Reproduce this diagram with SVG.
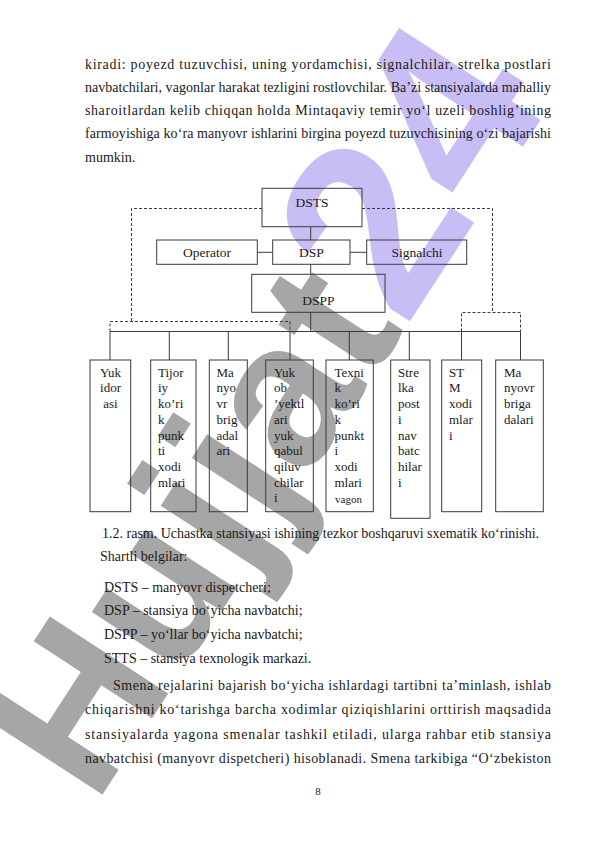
<svg xmlns="http://www.w3.org/2000/svg" width="596" height="842" viewBox="0 0 596 842">
<style>
.t{font-family:"Liberation Serif","Times New Roman",serif;font-size:14px;fill:#1a1a1a}
.bx{fill:none;stroke:#3a3a3a;stroke-width:1}
.bl{font-family:"Liberation Serif","Times New Roman",serif;font-size:13.5px;fill:#1a1a1a;text-anchor:middle}
.ct{font-family:"Liberation Serif","Times New Roman",serif;font-size:13px;fill:#1a1a1a}
.ln{fill:none;stroke:#3a3a3a;stroke-width:1}
.ds{fill:none;stroke:#3a3a3a;stroke-width:1;stroke-dasharray:3 2}
.wm{font-family:"Liberation Sans",Arial,sans-serif;font-weight:bold;font-size:205px}
</style>
<rect width="596" height="842" fill="#ffffff"/>
<g id="watermark">
<text class="wm" transform="translate(95,806) rotate(-57)"><tspan fill="#a6a6a6">Hujjat</tspan><tspan fill="#c9bdf6" style="font-size:245px">24</tspan></text>
</g>
<g id="body-top">
<text class="t" x="85" y="68.5" textLength="466" lengthAdjust="spacing">kiradi: poyezd tuzuvchisi, uning yordamchisi, signalchilar, strelka postlari</text>
<text class="t" x="85" y="91.5" textLength="466" lengthAdjust="spacing">navbatchilari, vagonlar harakat tezligini rostlovchilar.  Ba’zi stansiyalarda mahalliy</text>
<text class="t" x="85" y="114.5" textLength="466" lengthAdjust="spacing">sharoitlardan kelib chiqqan holda Mintaqaviy temir yo‘l uzeli  boshlig’ining</text>
<text class="t" x="85" y="137.5" textLength="466" lengthAdjust="spacing">farmoyishiga ko‘ra manyovr ishlarini birgina poyezd tuzuvchisining o‘zi bajarishi</text>
<text class="t" x="85" y="161.5">mumkin.</text>
</g>
<g id="connectors">
<path class="ds" d="M262 208.5 H131.5 V321.5"/>
<path class="ds" d="M110 331.5 V321.5 H290 V331.5"/>
<path class="ds" d="M362 208.5 H492.5 V312.5"/>
<path class="ds" d="M461.5 331.5 V312.5 H520.5 V331.5"/>
<path class="ln" d="M310.7 227 V240"/>
<path class="ln" d="M257.3 252.3 H272.7"/>
<path class="ln" d="M350 252.3 H366.7"/>
<path class="ln" d="M310.7 264.3 V274.3"/>
<path class="ln" d="M310.7 312.3 V331.5"/>
<path class="ln" d="M110 331.5 H520.5"/>
<path class="ln" d="M110 331.5 V360 M169.3 331.5 V360 M228.3 331.5 V360 M290 331.5 V360 M349.3 331.5 V360 M409.3 331.5 V360 M461.5 331.5 V360 M520.5 331.5 V360"/>
</g>
<g id="DSTS"><rect class="bx" x="262" y="188.3" width="100" height="38.4"/><text class="bl" x="312" y="206.5">DSTS</text></g>
<g id="Operator"><rect class="bx" x="156.7" y="240" width="100.6" height="24.3"/><text class="bl" x="207" y="256.7">Operator</text></g>
<g id="DSP"><rect class="bx" x="272.7" y="240" width="77.3" height="24.3"/><text class="bl" x="311.5" y="256.7">DSP</text></g>
<g id="Signalchi"><rect class="bx" x="366.7" y="240" width="100" height="24.3"/><text class="bl" x="417" y="256.7">Signalchi</text></g>
<g id="DSPP"><rect class="bx" x="251.7" y="274.3" width="133.3" height="38"/><text class="bl" x="318.5" y="305">DSPP</text></g>
<g id="yuk-idorasi"><rect class="bx" x="90" y="360" width="40.7" height="151.7"/>
<text class="ct" text-anchor="middle"><tspan x="110.5" y="376.7">Yuk</tspan><tspan x="110.5" y="392.4">idor</tspan><tspan x="110.5" y="408.1">asi</tspan></text></g>
<g id="tijoriy"><rect class="bx" x="150.7" y="360" width="45.3" height="151.7"/>
<text class="ct"><tspan x="158" y="376.7">Tijor</tspan><tspan x="158" y="392.4">iy</tspan><tspan x="158" y="408.1">ko’ri</tspan><tspan x="158" y="423.8">k</tspan><tspan x="158" y="439.5">punk</tspan><tspan x="158" y="455.2">ti</tspan><tspan x="158" y="470.9">xodi</tspan><tspan x="158" y="486.6">mlari</tspan></text></g>
<g id="manyovr-brigadalari-1"><rect class="bx" x="209.3" y="360" width="38" height="151.7"/>
<text class="ct"><tspan x="216.5" y="376.7">Ma</tspan><tspan x="216.5" y="392.4">nyo</tspan><tspan x="216.5" y="408.1">vr</tspan><tspan x="216.5" y="423.8">brig</tspan><tspan x="216.5" y="439.5">adal</tspan><tspan x="216.5" y="455.2">ari</tspan></text></g>
<g id="yuk-obyektlari"><rect class="bx" x="265.7" y="360" width="47.6" height="151.7"/>
<text class="ct"><tspan x="274" y="376.7">Yuk</tspan><tspan x="274" y="392.4">ob</tspan><tspan x="274" y="408.1">’yektl</tspan><tspan x="274" y="423.8">ari</tspan><tspan x="274" y="439.5">yuk</tspan><tspan x="274" y="455.2">qabul</tspan><tspan x="274" y="470.9">qiluv</tspan><tspan x="274" y="486.6">chilar</tspan><tspan x="274" y="502.3">i</tspan></text></g>
<g id="texnik"><rect class="bx" x="326" y="360" width="47.3" height="151.7"/>
<text class="ct"><tspan x="334.5" y="376.7">Texni</tspan><tspan x="334.5" y="392.4">k</tspan><tspan x="334.5" y="408.1">ko’ri</tspan><tspan x="334.5" y="423.8">k</tspan><tspan x="334.5" y="439.5">punkt</tspan><tspan x="334.5" y="455.2">i</tspan><tspan x="334.5" y="470.9">xodi</tspan><tspan x="334.5" y="486.6">mlari</tspan></text>
<text class="ct" x="335" y="503" style="font-size:11px">vagon</text></g>
<g id="strelka"><rect class="bx" x="390.7" y="360" width="39.3" height="158.3"/>
<text class="ct"><tspan x="398" y="376.7">Stre</tspan><tspan x="398" y="392.4">lka</tspan><tspan x="398" y="408.1">post</tspan><tspan x="398" y="423.8">i</tspan><tspan x="398" y="439.5">nav</tspan><tspan x="398" y="455.2">batc</tspan><tspan x="398" y="470.9">hilar</tspan><tspan x="398" y="486.6">i</tspan></text></g>
<g id="stm"><rect class="bx" x="441.7" y="360" width="40" height="151.7"/>
<text class="ct"><tspan x="449" y="376.7">ST</tspan><tspan x="449" y="392.4">M</tspan><tspan x="449" y="408.1">xodi</tspan><tspan x="449" y="423.8">mlar</tspan><tspan x="449" y="439.5">i</tspan></text></g>
<g id="manyovr-brigadalari-2"><rect class="bx" x="495.7" y="360" width="47.6" height="151.7"/>
<text class="ct"><tspan x="504" y="376.7">Ma</tspan><tspan x="504" y="392.4">nyovr</tspan><tspan x="504" y="408.1">briga</tspan><tspan x="504" y="423.8">dalari</tspan></text></g>
<g id="caption">
<text class="t" x="102" y="538">1.2. rasm. Uchastka stansiyasi ishining tezkor boshqaruvi sxematik ko‘rinishi.</text>
<text class="t" x="100" y="561">Shartli belgilar:</text>
<text class="t" x="104" y="592">DSTS – manyovr dispetcheri;</text>
<text class="t" x="104" y="615">DSP – stansiya bo‘yicha navbatchi;</text>
<text class="t" x="104" y="639">DSPP – yo‘llar bo‘yicha navbatchi;</text>
<text class="t" x="104" y="663">STTS – stansiya texnologik markazi.</text>
</g>
<g id="body-bottom">
<text class="t" x="113" y="690" textLength="438" lengthAdjust="spacing">Smena rejalarini bajarish bo‘yicha ishlardagi tartibni ta’minlash, ishlab</text>
<text class="t" x="85" y="714" textLength="466" lengthAdjust="spacing">chiqarishni ko‘tarishga barcha xodimlar qiziqishlarini orttirish maqsadida</text>
<text class="t" x="85" y="739" textLength="466" lengthAdjust="spacing">stansiyalarda yagona smenalar tashkil etiladi, ularga rahbar etib stansiya</text>
<text class="t" x="85" y="763" textLength="466" lengthAdjust="spacing">navbatchisi (manyovr dispetcheri) hisoblanadi. Smena tarkibiga “O‘zbekiston</text>
<text class="t" x="318" y="795" text-anchor="middle" style="font-size:11px">8</text>
</g>
</svg>
